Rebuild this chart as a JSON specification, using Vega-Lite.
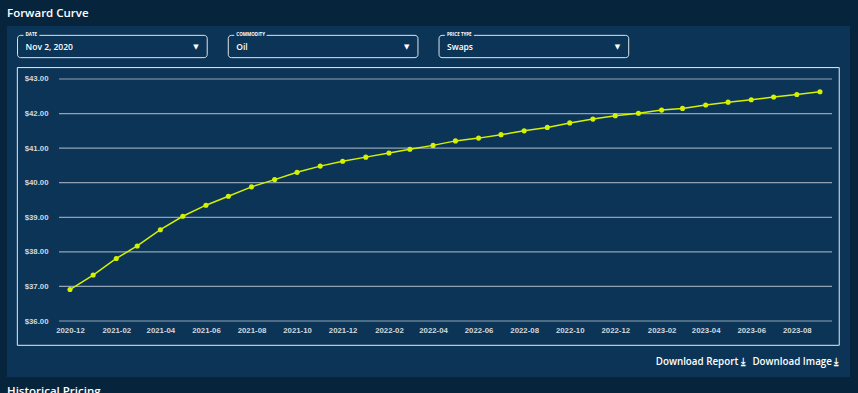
{
  "$schema": "https://vega.github.io/schema/vega-lite/v6.json",
  "background": "#07243d",
  "padding": {"left": 7, "top": 7, "right": 8, "bottom": 0},
  "spacing": 0,
  "title": {"text": "Forward Curve", "anchor": "start", "color": "#ffffff", "fontSize": 11.5, "font": "Open Sans", "fontWeight": 600, "offset": 7},
  "config": {
    "view": {"fill": "#0b3456", "stroke": null},
    "concat": {"spacing": 0}
  },
  "vconcat": [
    {
      "width": 843,
      "height": 41,
      "data": {"values": [
        {"label": "DATE", "value": "Nov 2, 2020"},
        {"label": "COMMODITY", "value": "Oil"},
        {"label": "PRICE TYPE", "value": "Swaps"}
      ]},
      "encoding": {
        "x": {"field": "label", "type": "nominal", "scale": {"domain": ["DATE", "COMMODITY", "PRICE TYPE", ""], "paddingInner": 0.1, "paddingOuter": 0.05}, "axis": null},
        "y": {"datum": "row", "type": "nominal", "scale": {"paddingInner": 0, "paddingOuter": 0.42}, "axis": null}
      },
      "layer": [
        {"mark": {"type": "rect", "fill": "#0b3456", "stroke": "#dfe5ea", "strokeWidth": 1, "cornerRadius": 3}},
        {"mark": {"type": "text", "align": "left", "baseline": "middle", "dx": 8, "dy": -11.2, "fontSize": 4.5, "fontWeight": "bold", "font": "Open Sans", "fill": "#0b3456", "stroke": "#0b3456", "strokeWidth": 5},
         "encoding": {"x": {"field": "label", "type": "nominal", "bandPosition": 0}, "text": {"field": "label"}}},
        {"mark": {"type": "text", "align": "left", "baseline": "middle", "dx": 8, "dy": -11.2, "fontSize": 4.5, "fontWeight": "bold", "font": "Open Sans", "color": "#ffffff"},
         "encoding": {"x": {"field": "label", "type": "nominal", "bandPosition": 0}, "text": {"field": "label"}}},
        {"mark": {"type": "text", "align": "left", "baseline": "middle", "dx": 8, "dy": 0.5, "fontSize": 8.5, "fontWeight": 600, "font": "Open Sans", "color": "#ffffff"},
         "encoding": {"x": {"field": "label", "type": "nominal", "bandPosition": 0}, "text": {"field": "value"}}},
        {"mark": {"type": "text", "align": "center", "baseline": "middle", "dy": 0, "fontSize": 7, "font": "DejaVu Sans", "color": "#ffffff"},
         "encoding": {"x": {"field": "label", "type": "nominal", "bandPosition": 0.94}, "text": {"value": "▼"}}}
      ]
    },
    {
      "width": 843,
      "height": 310,
      "layer": [
        {
          "data": {"values": [{"box": "frame"}]},
          "mark": {"type": "rect", "fill": null, "fillOpacity": 0, "stroke": "#e8edf1", "strokeWidth": 1},
          "encoding": {
            "x": {"datum": {"year": 2020, "month": 9, "date": 21, "hours": 12, "utc": true}, "type": "temporal", "scale": {"type": "utc", "domain": [{"year": 2020, "month": 9, "date": 7, "hours": 16, "utc": true}, {"year": 2023, "month": 10, "date": 11, "hours": 5, "utc": true}], "nice": false}},
            "x2": {"datum": {"year": 2023, "month": 9, "date": 26, "hours": 19, "utc": true}},
            "y": {"datum": 43.33, "type": "quantitative", "scale": {"domain": [34.3802, 43.3471], "nice": false, "zero": false}},
            "y2": {"datum": 35.297}
          }
        },
        {
          "data": {"values": [{"tick": 36}, {"tick": 37}, {"tick": 38}, {"tick": 39}, {"tick": 40}, {"tick": 41}, {"tick": 42}, {"tick": 43}]},
          "mark": {"type": "rule", "color": "#8fa3b5", "strokeWidth": 1.2},
          "encoding": {
            "x": {"datum": {"year": 2020, "month": 11, "date": 16, "hours": 7, "utc": true}, "type": "temporal"},
            "x2": {"datum": {"year": 2023, "month": 9, "date": 17, "hours": 3, "utc": true}},
            "y": {"field": "tick", "type": "quantitative"}
          }
        },
        {
          "data": {"values": [
            {"date": "2020-12-01", "price": 36.91},
            {"date": "2021-01-01", "price": 37.33},
            {"date": "2021-02-01", "price": 37.81},
            {"date": "2021-03-01", "price": 38.17},
            {"date": "2021-04-01", "price": 38.64},
            {"date": "2021-05-01", "price": 39.03},
            {"date": "2021-06-01", "price": 39.35},
            {"date": "2021-07-01", "price": 39.61},
            {"date": "2021-08-01", "price": 39.88},
            {"date": "2021-09-01", "price": 40.09},
            {"date": "2021-10-01", "price": 40.30},
            {"date": "2021-11-01", "price": 40.48},
            {"date": "2021-12-01", "price": 40.62},
            {"date": "2022-01-01", "price": 40.74},
            {"date": "2022-02-01", "price": 40.86},
            {"date": "2022-03-01", "price": 40.97},
            {"date": "2022-04-01", "price": 41.08},
            {"date": "2022-05-01", "price": 41.21},
            {"date": "2022-06-01", "price": 41.29},
            {"date": "2022-07-01", "price": 41.39},
            {"date": "2022-08-01", "price": 41.50},
            {"date": "2022-09-01", "price": 41.60},
            {"date": "2022-10-01", "price": 41.73},
            {"date": "2022-11-01", "price": 41.84},
            {"date": "2022-12-01", "price": 41.94},
            {"date": "2023-01-01", "price": 42.01},
            {"date": "2023-02-01", "price": 42.10},
            {"date": "2023-03-01", "price": 42.15},
            {"date": "2023-04-01", "price": 42.25},
            {"date": "2023-05-01", "price": 42.33},
            {"date": "2023-06-01", "price": 42.40},
            {"date": "2023-07-01", "price": 42.48},
            {"date": "2023-08-01", "price": 42.55},
            {"date": "2023-09-01", "price": 42.63}
          ]},
          "mark": {"type": "line", "color": "#d4f200", "strokeWidth": 1.5, "point": {"filled": true, "size": 26, "color": "#d4f200"}},
          "encoding": {
            "x": {"field": "date", "type": "temporal", "axis": {
              "title": "Download Report ⤓\u00a0\u00a0\u00a0Download Image ⤓",
              "titleAnchor": "end", "titleAlign": "right", "titleX": 831, "titleY": 40, "titleBaseline": "middle",
              "titleColor": "#ffffff", "titleFont": "Open Sans", "titleFontSize": 9.8, "titleFontWeight": 600,
              "offset": -56, "domain": false, "ticks": false, "grid": false,
              "labelPadding": 5, "labelColor": "#d3d9de", "labelFont": "Liberation Sans", "labelFontSize": 7.8, "labelFontWeight": "bold",
              "labelExpr": "utcFormat(datum.value, '%Y-%m')", "labelOverlap": false,
              "values": [
                {"year": 2020, "month": 12, "date": 1, "utc": true},
                {"year": 2021, "month": 2, "date": 1, "utc": true},
                {"year": 2021, "month": 4, "date": 1, "utc": true},
                {"year": 2021, "month": 6, "date": 1, "utc": true},
                {"year": 2021, "month": 8, "date": 1, "utc": true},
                {"year": 2021, "month": 10, "date": 1, "utc": true},
                {"year": 2021, "month": 12, "date": 1, "utc": true},
                {"year": 2022, "month": 2, "date": 1, "utc": true},
                {"year": 2022, "month": 4, "date": 1, "utc": true},
                {"year": 2022, "month": 6, "date": 1, "utc": true},
                {"year": 2022, "month": 8, "date": 1, "utc": true},
                {"year": 2022, "month": 10, "date": 1, "utc": true},
                {"year": 2022, "month": 12, "date": 1, "utc": true},
                {"year": 2023, "month": 2, "date": 1, "utc": true},
                {"year": 2023, "month": 4, "date": 1, "utc": true},
                {"year": 2023, "month": 6, "date": 1, "utc": true},
                {"year": 2023, "month": 8, "date": 1, "utc": true}
              ]
            }},
            "y": {"field": "price", "type": "quantitative", "axis": {
              "title": null, "offset": -52, "domain": false, "ticks": false, "grid": false,
              "values": [36, 37, 38, 39, 40, 41, 42, 43], "format": "$.2f",
              "labelPadding": 11, "labelColor": "#d3d9de", "labelFont": "Liberation Sans", "labelFontSize": 7.8, "labelFontWeight": "bold"
            }}
          }
        }
      ]
    },
    {
      "width": 843,
      "height": 1,
      "view": {"fill": null, "stroke": null},
      "title": {"text": "Historical Pricing", "anchor": "start", "color": "#ffffff", "fontSize": 11.5, "font": "Open Sans", "fontWeight": 600, "dy": 24},
      "data": {"values": [{"x": 0}]},
      "mark": {"type": "text"},
      "encoding": {"text": {"value": ""}}
    }
  ]
}
